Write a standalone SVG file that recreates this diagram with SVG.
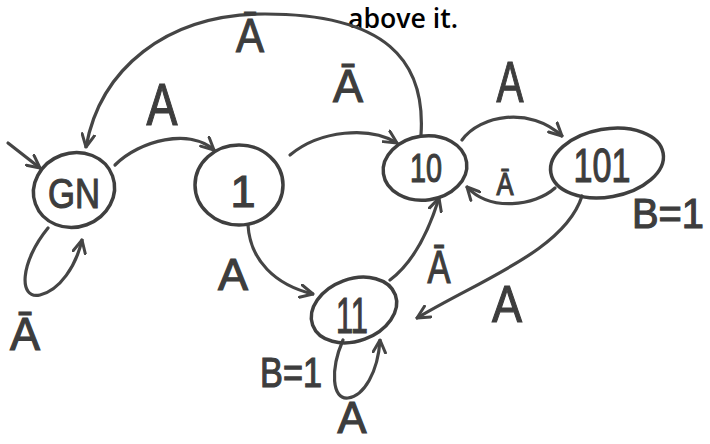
<svg xmlns="http://www.w3.org/2000/svg" width="710" height="444" viewBox="0 0 710 444">
<style>
.n{fill:none;stroke:#3f3f3f;stroke-width:3.5}
.e{fill:none;stroke:#454545;stroke-width:3.2;stroke-linecap:round}
.t{font-family:"Liberation Sans",Arial,sans-serif;fill:#3d3d3d;stroke:#3d3d3d;stroke-width:1.2;text-anchor:middle}
.p{font-family:"Open Sans","Liberation Sans",sans-serif;fill:#000;font-size:27px;font-weight:600}
</style>
<defs>
<marker id="ah" viewBox="0 0 12 12" refX="11" refY="6" markerWidth="15" markerHeight="15" markerUnits="userSpaceOnUse" orient="auto">
<path d="M1,1 L11,6 L1,11" fill="none" stroke="#454545" stroke-width="2.4" stroke-linecap="round" stroke-linejoin="round"/>
</marker>
</defs>
<rect width="710" height="444" fill="#fff"/>
<text class="p" x="348" y="28" textLength="110" lengthAdjust="spacingAndGlyphs">above it.</text>

<g id="connectors">
<path class="e" d="M8 143 L40 168" marker-end="url(#ah)"/>
<path class="e" d="M421 135 C426 60 385 14 265 14 C165 14 100 70 86 147" marker-end="url(#ah)"/>
<path class="e" d="M48 228 C20 262 18 300 40 295 C60 290 76 266 82 240" marker-end="url(#ah)"/>
<path class="e" d="M115 165 C140 140 190 128 214 150" marker-end="url(#ah)"/>
<path class="e" d="M290 155 C320 130 370 126 397 143" marker-end="url(#ah)"/>
<path class="e" d="M462 140 C480 115 530 106 562 136" marker-end="url(#ah)"/>
<path class="e" d="M555 188 C535 206 490 212 467 187" marker-end="url(#ah)"/>
<path class="e" d="M582 196 C565 250 480 280 417 318" marker-end="url(#ah)"/>
<path class="e" d="M390 280 C410 265 426 240 439 198" marker-end="url(#ah)"/>
<path class="e" d="M248 225 C250 260 275 285 313 294" marker-end="url(#ah)"/>
<path class="e" d="M343 340 C330 370 332 400 348 398 C364 396 378 372 380 340" marker-end="url(#ah)"/>
</g>

<g id="edge-labels">
<text class="t" x="250" y="52" font-size="49" textLength="28" lengthAdjust="spacingAndGlyphs">Ā</text>
<text class="t" x="162" y="125" font-size="60" textLength="31" lengthAdjust="spacingAndGlyphs">A</text>
<text class="t" x="348" y="102" font-size="47" textLength="30" lengthAdjust="spacingAndGlyphs">Ā</text>
<text class="t" x="510" y="102" font-size="58" textLength="27" lengthAdjust="spacingAndGlyphs">A</text>
<text class="t" x="505" y="195" font-size="32" textLength="17" lengthAdjust="spacingAndGlyphs">Ā</text>
<text class="t" x="439" y="283" font-size="46" textLength="23" lengthAdjust="spacingAndGlyphs">Ā</text>
<text class="t" x="507" y="322" font-size="52" textLength="30" lengthAdjust="spacingAndGlyphs">A</text>
<text class="t" x="233" y="290" font-size="45" textLength="30" lengthAdjust="spacingAndGlyphs">A</text>
<text class="t" x="25" y="350" font-size="46" textLength="30" lengthAdjust="spacingAndGlyphs">Ā</text>
<text class="t" x="352" y="433" font-size="44" textLength="29" lengthAdjust="spacingAndGlyphs">A</text>
<text class="t" x="291" y="387" font-size="42" textLength="62" lengthAdjust="spacingAndGlyphs">B=1</text>
<text class="t" x="668" y="228" font-size="42" textLength="72" lengthAdjust="spacingAndGlyphs">B=1</text>
</g>

<g id="node-GN">
<ellipse class="n" cx="74" cy="190" rx="41" ry="37" transform="rotate(-20 74 190)"/>
<text class="t" x="74" y="208" font-size="43" textLength="52" lengthAdjust="spacingAndGlyphs">GN</text>
</g>
<g id="node-1">
<ellipse class="n" cx="239" cy="185" rx="44" ry="40"/>
<text class="t" x="243" y="207" font-size="45">1</text>
</g>
<g id="node-10">
<ellipse class="n" cx="425" cy="168" rx="42" ry="32" transform="rotate(-8 425 168)"/>
<text class="t" x="426" y="182" font-size="40" textLength="32" lengthAdjust="spacingAndGlyphs">10</text>
</g>
<g id="node-101">
<ellipse class="n" cx="607" cy="163" rx="57" ry="34" transform="rotate(-10 607 163)"/>
<text class="t" x="602" y="182" font-size="49" textLength="57" lengthAdjust="spacingAndGlyphs">101</text>
</g>
<g id="node-11">
<ellipse class="n" cx="354" cy="310" rx="44" ry="31" transform="rotate(-20 354 310)"/>
<text class="t" x="352" y="333" font-size="50" textLength="32" lengthAdjust="spacingAndGlyphs">11</text>
</g>
</svg>
